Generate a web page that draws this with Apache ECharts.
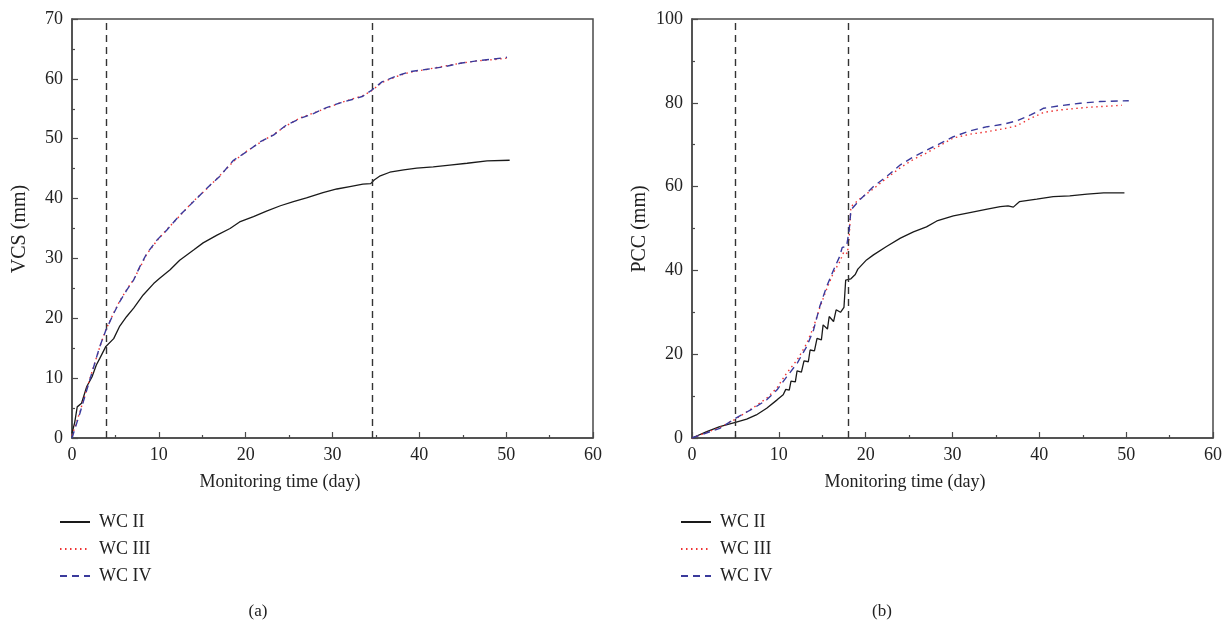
<!DOCTYPE html>
<html>
<head>
<meta charset="utf-8">
<script src="https://cdn.jsdelivr.net/npm/echarts@6/dist/echarts.min.js"></script>
<style>html,body{margin:0;padding:0;background:#fff}#c{width:1230px;height:624px}</style>
</head>
<body>
<div id="c"></div>
<script>
// ---- data ----
const seriesNames = ['WC II', 'WC III', 'WC IV'];
const xTicks = [0, 10, 20, 30, 40, 50, 60];
const vcsMarkers = [4, 34.6];
const pccMarkers = [5, 18];

const vcsWC2 = [[0,0.8],[0.3,2.5],[0.6,5.2],[1.1,5.8],[1.7,8.6],[2.3,10.2],[2.8,12.2],[3.2,13.3],[3.9,15.3],[4.8,16.6],[5.5,18.7],[6.3,20.3],[7.1,21.7],[8.2,23.9],[9.4,25.8],[10.1,26.7],[11.3,28.1],[12.4,29.7],[14.0,31.4],[15.1,32.6],[16.7,33.9],[18.2,35.0],[19.3,36.1],[20.9,37.0],[22.4,37.9],[24.0,38.8],[25.5,39.5],[27.0,40.1],[28.9,41.0],[30.5,41.6],[32.0,42.0],[33.5,42.4],[34.4,42.5],[34.8,43.1],[35.5,43.8],[36.6,44.4],[38.2,44.8],[39.7,45.1],[41.6,45.3],[43.5,45.6],[45.5,45.9],[47.8,46.3],[50.4,46.4]];
const vcsWC3 = [[0,0.4],[0.9,4.3],[1.7,8.2],[2.5,12.0],[3.2,15.2],[3.9,18.1],[4.8,20.9],[5.5,22.9],[6.3,24.8],[7.1,26.5],[7.8,28.4],[8.6,30.7],[9.8,33.0],[10.9,34.8],[12.4,37.1],[14.0,39.6],[15.5,41.6],[17.0,43.8],[18.6,46.2],[20.1,47.9],[21.7,49.4],[23.2,50.7],[24.7,52.2],[26.3,53.5],[27.8,54.3],[29.3,55.1],[30.9,56.0],[32.4,56.7],[33.5,57.2],[34.5,58.0],[35.7,59.4],[37.4,60.4],[38.9,61.1],[40.9,61.6],[42.8,62.1],[44.7,62.6],[46.6,63.0],[48.5,63.2],[50.3,63.5]];
const vcsWC4 = [[0,0],[0.9,4.1],[1.7,8.0],[2.5,11.9],[3.2,15.3],[3.9,18.0],[4.8,20.8],[5.5,22.8],[6.3,24.7],[7.1,26.4],[7.8,28.6],[8.6,30.8],[9.8,33.1],[10.9,34.7],[12.4,37.2],[14.0,39.5],[15.5,41.7],[17.0,43.7],[18.6,46.4],[20.1,47.8],[21.7,49.5],[23.2,50.6],[24.7,52.3],[26.3,53.4],[27.8,54.2],[29.3,55.2],[30.9,56.0],[32.4,56.6],[33.5,57.1],[34.5,58.1],[35.7,59.5],[37.4,60.5],[38.9,61.2],[40.9,61.6],[42.8,62.0],[44.7,62.6],[46.6,63.0],[48.5,63.3],[50.1,63.6]];

const pccWC2 = [[0,0],[1.7,1.5],[3.2,2.7],[5.0,3.7],[6.3,4.5],[7.4,5.5],[8.6,7.1],[9.8,9.1],[10.5,10.3],[10.8,11.6],[11.2,11.4],[11.4,13.6],[11.9,13.4],[12.1,16.0],[12.6,15.7],[12.9,18.4],[13.4,18.2],[13.6,21.0],[14.1,20.8],[14.4,23.8],[14.9,23.4],[15.1,27.0],[15.6,26.0],[15.8,29.0],[16.3,27.8],[16.6,30.6],[17.1,30.0],[17.5,31.2],[17.7,37.7],[18.3,38.0],[18.8,39.0],[19.1,40.3],[20.1,42.5],[20.9,43.7],[22.4,45.7],[24.0,47.7],[25.5,49.2],[27.0,50.4],[28.2,51.8],[30.1,53.0],[32.0,53.8],[34.0,54.6],[35.5,55.2],[36.4,55.4],[37.0,55.1],[37.7,56.4],[39.7,57.0],[41.6,57.6],[43.5,57.8],[45.5,58.2],[47.4,58.5],[49.8,58.5]];
const pccWC3 = [[0,0],[3.2,2.5],[5.0,4.5],[7.1,7.3],[8.6,9.5],[9.8,12.0],[10.9,15.5],[12.1,18.6],[13.2,22.5],[14.0,26.5],[14.7,31.0],[15.5,35.5],[16.3,39.5],[17.0,42.0],[17.5,44.5],[17.9,44.0],[18.1,48.0],[18.3,55.2],[19.3,57.0],[20.9,59.5],[22.4,62.0],[24.0,64.5],[25.5,66.5],[27.0,68.0],[28.2,69.4],[30.1,71.6],[32.0,72.5],[34.0,73.1],[35.9,73.8],[37.4,74.5],[39.0,76.3],[40.5,77.7],[42.4,78.3],[45.5,78.9],[49.5,79.4]];
const pccWC4 = [[0,0],[3.2,2.3],[5.0,4.7],[7.1,7.1],[8.6,9.1],[9.8,11.5],[10.9,14.6],[12.1,17.8],[13.2,21.8],[14.0,25.8],[14.7,31.3],[15.5,36.1],[16.3,40.1],[17.0,43.3],[17.3,45.5],[17.8,45.7],[18.1,49.6],[18.3,54.4],[19.3,56.8],[20.9,60.0],[22.4,62.4],[24.0,65.2],[25.5,67.1],[27.0,68.7],[28.2,69.9],[30.1,71.9],[32.0,73.3],[34.0,74.3],[35.9,74.9],[37.4,75.7],[39.0,77.1],[40.5,78.7],[42.4,79.3],[44.7,79.9],[47.0,80.3],[50.3,80.5]];

// ---- styles ----
const FONT = '"Liberation Serif", "DejaVu Serif", serif';
const AXC = '#4a4a4a';
const styles = [
  {color: '#1a1a1a', type: 'solid'},
  {color: '#ee3333', type: [1.5, 3.5]},
  {color: '#3a3a9c', type: [7, 5]}
];

function xAx(gi) {
  return {
    type: 'value', gridIndex: gi, min: 0, max: 60, interval: 10,
    axisLine: {show: true, lineStyle: {color: AXC, width: 1.5}},
    axisTick: {show: true, inside: true, length: 6, lineStyle: {color: AXC, width: 1.2}},
    minorTick: {show: true, splitNumber: 2, length: 3, lineStyle: {color: AXC, width: 1.2}},
    axisLabel: {show: true, margin: 8, color: '#222', fontFamily: FONT, fontSize: 18,
      formatter: v => xTicks.includes(v) ? String(v) : ''},
    splitLine: {show: false}
  };
}
function yAx(gi, max, iv) {
  return {
    type: 'value', gridIndex: gi, min: 0, max: max, interval: iv,
    axisLine: {show: true, lineStyle: {color: AXC, width: 1.5}},
    axisTick: {show: true, inside: true, length: 6, lineStyle: {color: AXC, width: 1.2}},
    minorTick: {show: true, splitNumber: 2, length: 3, lineStyle: {color: AXC, width: 1.2}},
    axisLabel: {show: true, margin: 9, color: '#222', fontFamily: FONT, fontSize: 18},
    splitLine: {show: false}
  };
}
function mkSeries(name, data, gi, idx, markers) {
  const s = {
    name: name, type: 'line', xAxisIndex: gi, yAxisIndex: gi, data: data,
    showSymbol: false, symbol: 'none', smooth: false, silent: true,
    lineStyle: {color: styles[idx].color, type: styles[idx].type, width: idx === 0 ? 1.3 : 1.4},
    itemStyle: {color: styles[idx].color},
    z: 3 + idx
  };
  if (markers) {
    s.markLine = {
      silent: true, symbol: 'none', label: {show: false},
      lineStyle: {color: '#333', type: [7, 5], width: 1.4},
      data: markers.map(v => ({xAxis: v}))
    };
  }
  return s;
}

const chart = echarts.init(document.getElementById('c'), null, {renderer: 'canvas'});
const legendBase = {
  orient: 'vertical', itemWidth: 30, itemHeight: 12, itemGap: 9,
  itemStyle: {opacity: 0},
  textStyle: {fontFamily: FONT, fontSize: 18, color: '#222', padding: [0, 0, 0, 4]},
  data: seriesNames, selectedMode: false
};
chart.setOption({
  animation: false,
  backgroundColor: '#fff',
  grid: [
    {left: 72, right: 637, top: 19, bottom: 186, show: true, borderColor: AXC, borderWidth: 1.5},
    {left: 692, right: 17, top: 19, bottom: 186, show: true, borderColor: AXC, borderWidth: 1.5}
  ],
  xAxis: [xAx(0), xAx(1)],
  yAxis: [yAx(0, 70, 10), yAx(1, 100, 20)],
  legend: [
    Object.assign({}, legendBase, {left: 54, top: 508}),
    Object.assign({}, legendBase, {left: 675, top: 508})
  ],
  series: [
    mkSeries(seriesNames[0], vcsWC2, 0, 0, vcsMarkers),
    mkSeries(seriesNames[1], vcsWC3, 0, 1),
    mkSeries(seriesNames[2], vcsWC4, 0, 2),
    mkSeries(seriesNames[0], pccWC2, 1, 0, pccMarkers),
    mkSeries(seriesNames[1], pccWC3, 1, 1),
    mkSeries(seriesNames[2], pccWC4, 1, 2)
  ],
  graphic: [
    {type: 'text', x: 280, y: 482, style: {text: 'Monitoring time (day)', font: '18px ' + FONT, fill: '#222', align: 'center', verticalAlign: 'middle'}},
    {type: 'text', x: 905, y: 482, style: {text: 'Monitoring time (day)', font: '18px ' + FONT, fill: '#222', align: 'center', verticalAlign: 'middle'}},
    {type: 'text', x: 20, y: 229, rotation: Math.PI / 2, style: {text: 'VCS (mm)', font: '20px ' + FONT, fill: '#222', align: 'center', verticalAlign: 'middle'}},
    {type: 'text', x: 640, y: 229, rotation: Math.PI / 2, style: {text: 'PCC (mm)', font: '20px ' + FONT, fill: '#222', align: 'center', verticalAlign: 'middle'}},
    {type: 'text', x: 258, y: 612, style: {text: '(a)', font: '17px ' + FONT, fill: '#222', align: 'center', verticalAlign: 'middle'}},
    {type: 'text', x: 882, y: 612, style: {text: '(b)', font: '17px ' + FONT, fill: '#222', align: 'center', verticalAlign: 'middle'}}
  ]
});
</script>
</body>
</html>
